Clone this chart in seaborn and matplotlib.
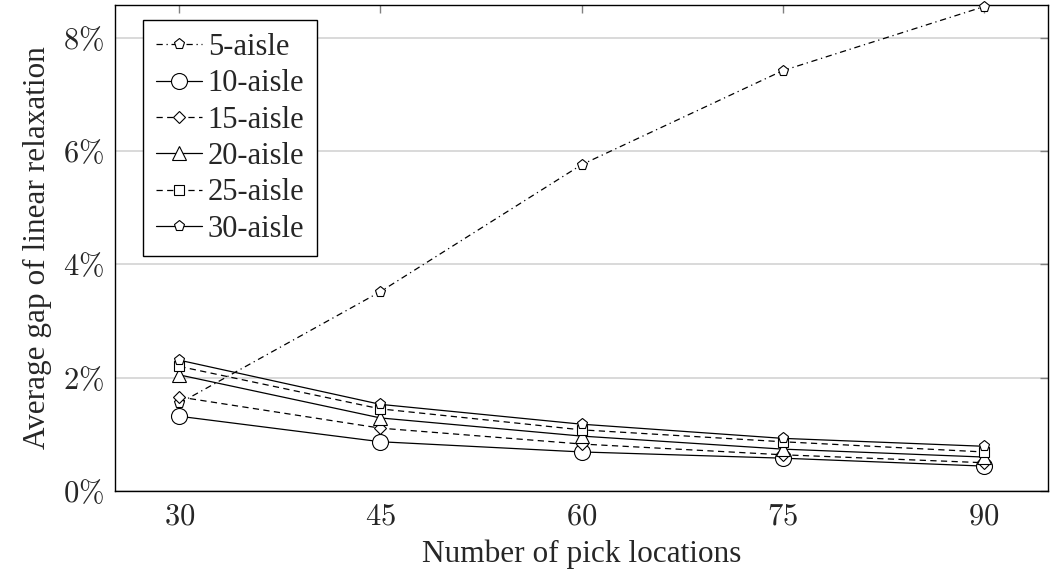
import pandas as pd
import matplotlib
matplotlib.use("Agg")
import matplotlib.pyplot as plt
import seaborn as sns

# data (gap in %)
locations = [30, 45, 60, 75, 90]
aisles = ['5-aisle', '10-aisle', '15-aisle', '20-aisle', '25-aisle', '30-aisle']
gap_5 = [1.55, 3.52, 5.76, 7.42, 8.55]
gap_10 = [1.32, 0.87, 0.69, 0.58, 0.44]
gap_15 = [1.66, 1.11, 0.83, 0.64, 0.50]
gap_20 = [2.05, 1.29, 0.97, 0.74, 0.60]
gap_25 = [2.20, 1.45, 1.08, 0.87, 0.69]
gap_30 = [2.31, 1.53, 1.18, 0.93, 0.79]
yticks = [0, 2, 4, 6, 8]
ytick_labels = [r'$0\%$', r'$2\%$', r'$4\%$', r'$6\%$', r'$8\%$']
xtick_labels = [r'$30$', r'$45$', r'$60$', r'$75$', r'$90$']

series = [gap_5, gap_10, gap_15, gap_20, gap_25, gap_30]
rows = []
for name, vals in zip(aisles, series):
    for x, v in zip(locations, vals):
        rows.append({'locations': x, 'gap': v, 'aisle': name})
df = pd.DataFrame(rows)

sns.set_style('white')
plt.rcParams['font.family'] = ['Liberation Serif', 'DejaVu Serif']
plt.rcParams['mathtext.fontset'] = 'cm'

fig = plt.figure(figsize=(10.57, 5.77), dpi=100)
ax = fig.add_axes([0.1088, 0.149, 0.8827, 0.8423])

dash_styles = {
    '5-aisle': (5, 3, 1, 3),
    '10-aisle': '',
    '15-aisle': (5, 3.5),
    '20-aisle': '',
    '25-aisle': (5, 3.5),
    '30-aisle': '',
}
marker_styles = {
    '5-aisle': 'p',
    '10-aisle': 'o',
    '15-aisle': 'D',
    '20-aisle': '^',
    '25-aisle': 's',
    '30-aisle': 'p',
}
marker_sizes = {'5-aisle': 8, '10-aisle': 11.5, '15-aisle': 6,
                '20-aisle': 10, '25-aisle': 6.5, '30-aisle': 8}

sns.lineplot(data=df, x='locations', y='gap', hue='aisle', style='aisle',
             hue_order=aisles, style_order=aisles,
             palette=['black'] * len(aisles), dashes=dash_styles,
             markers=marker_styles, linewidth=0.9, legend=False, ax=ax)

for line, name in zip(ax.lines, aisles):
    line.set_markerfacecolor('white')
    line.set_markeredgecolor('black')
    line.set_markeredgewidth(0.8)
    line.set_markersize(marker_sizes[name])
    line.set_clip_on(False)
    line.set_zorder(3)

ax.set_xlim(25.2, 94.8)
ax.set_ylim(0, 8.58)
ax.set_xticks(locations)
ax.set_xticklabels(xtick_labels, fontsize=22)
ax.set_yticks(yticks)
ax.set_yticklabels(ytick_labels, fontsize=22)
ax.yaxis.grid(True, color='#d3d3d3', linewidth=1.2)
ax.set_axisbelow(True)
ax.tick_params(direction='in', top=True, right=True, color='gray',
               length=6, width=1, pad=8)
for sp in ax.spines.values():
    sp.set_color('black')
    sp.set_linewidth(1.0)

ax.set_xlabel('Number of pick locations', fontsize=22.5, labelpad=6)
ax.set_ylabel('Average gap of linear relaxation', fontsize=22.5, labelpad=8)

leg = ax.legend(ax.lines, aisles, loc='upper left', bbox_to_anchor=(0.03, 0.969),
                borderaxespad=0, fancybox=False, edgecolor='black', framealpha=1,
                fontsize=22, handlelength=1.5, handletextpad=0.2,
                labelspacing=0.24, borderpad=0.42)
leg.get_frame().set_linewidth(1.0)

fig.savefig('out.png', dpi=100)
